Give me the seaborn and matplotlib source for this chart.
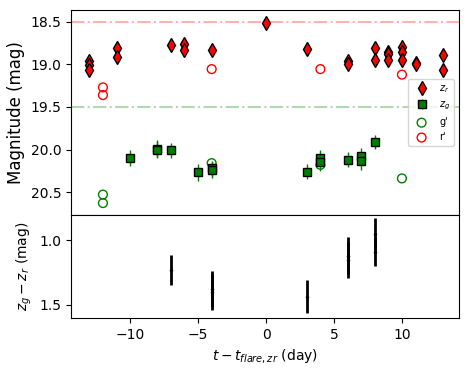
import numpy as np
import matplotlib
matplotlib.use('Agg')
import matplotlib.pyplot as plt
import seaborn as sns

sns.set_style("ticks", {'axes.edgecolor': 'black', 'xtick.color': 'black',
                        'ytick.color': 'black', 'text.color': 'black',
                        'axes.labelcolor': 'black'})
plt.rcParams['font.family'] = ['DejaVu Sans']

# z_r (red diamonds)
zr_t = [-13, -13, -13, -11, -11, -7, -6, -6, -4, 0, 3, 6, 6, 8, 8, 9, 9, 9, 10, 10, 10, 11, 11, 13, 13]
zr_m = [18.965, 19.01, 19.07, 18.81, 18.91, 18.77, 18.76, 18.83, 18.83, 18.515, 18.82,
        18.96, 18.995, 18.81, 18.945, 18.85, 18.88, 18.945, 18.79, 18.85, 18.945,
        18.98, 19.0, 18.89, 19.06]
zr_e = [0.02] * len(zr_t)

# z_g (green squares)
zg_t = [-10, -8, -8, -7, -5, -4, -4, 3, 4, 4, 6, 7, 7, 8]
zg_m = [20.10, 19.99, 20.0, 20.01, 20.27, 20.22, 20.24, 20.26, 20.10, 20.15, 20.12, 20.08, 20.14, 19.91]
zg_e = [0.09, 0.1, 0.1, 0.09, 0.1, 0.09, 0.09, 0.09, 0.1, 0.1, 0.09, 0.1, 0.1, 0.08]

# g' and r' (open circles)
g_t = [-12, -12, -4, 4, 10]
g_m = [20.53, 20.63, 20.16, 20.18, 20.34]
r_t = [-12, -12, -4, 4, 10]
r_m = [19.27, 19.36, 19.055, 19.055, 19.12]

# colour difference
d_t = [-7, -4, -4, 3, 6, 6, 8, 8]
d_v = [1.235, 1.38, 1.40, 1.44, 1.12, 1.155, 0.955, 1.09]
d_e = [0.117, 0.14, 0.14, 0.127, 0.14, 0.14, 0.125, 0.11]

fig = plt.figure(figsize=(4.68, 3.75), dpi=100)
ax1 = fig.add_axes([71/468, 160/375, 388/468, 205/375])
ax2 = fig.add_axes([71/468, 57/375, 388/468, 103/375], sharex=ax1)

ax1.axhline(18.5, color='red', alpha=0.3, ls='-.', lw=1.5)
ax1.axhline(19.5, color='green', alpha=0.3, ls='-.', lw=1.5)

ax1.errorbar(zr_t, zr_m, yerr=zr_e, fmt='d', color='red', mec='black', ms=7,
             ecolor='red', elinewidth=1, label='$z_r$')
ax1.errorbar(zg_t, zg_m, yerr=zg_e, fmt='s', color='green', mec='black', ms=6,
             ecolor='green', elinewidth=1, label='$z_g$')
sns.scatterplot(x=g_t, y=g_m, ax=ax1, marker='o', facecolors='none', edgecolor='green',
                linewidth=1, s=40, label="g'")
sns.scatterplot(x=r_t, y=r_m, ax=ax1, marker='o', facecolors='none', edgecolor='red',
                linewidth=1, s=40, label="r'")

ax1.set_ylim(20.77, 18.36)
ax1.set_yticks([18.5, 19.0, 19.5, 20.0, 20.5])
ax1.set_ylabel('Magnitude (mag)', fontsize=12)
ax1.tick_params(labelbottom=False)
handles, labels = ax1.get_legend_handles_labels()
order = [labels.index(l) for l in ['$z_r$', '$z_g$', "g'", "r'"]]
ax1.legend([handles[i] for i in order], [labels[i] for i in order],
           loc='center right', fontsize=7)

ax2.errorbar(d_t, d_v, yerr=d_e, fmt='.', color='black', ms=3, elinewidth=2)
ax2.set_ylim(1.604, 0.806)
ax2.set_yticks([1.0, 1.5])
ax2.set_xlim(-14.35, 14.2)
ax2.set_ylabel('$z_g - z_r$ (mag)')
ax2.set_xlabel('$t - t_{flare, zr}$ (day)')

fig.savefig('out.png', dpi=100)
